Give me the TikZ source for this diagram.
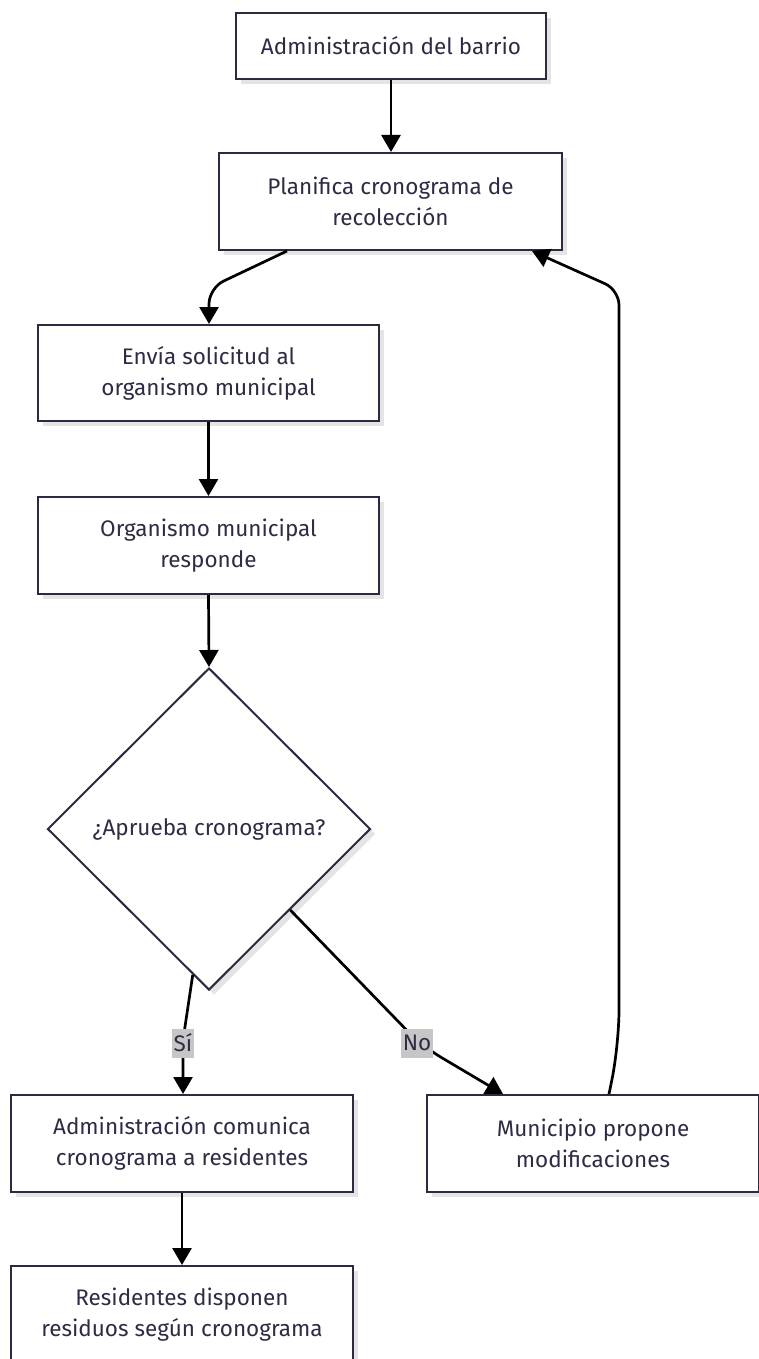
\documentclass[tikz,border=0pt]{standalone}
\usepackage{fontspec}
\setmainfont{Fira Sans}
\usetikzlibrary{arrows.meta,shapes.geometric,shadows,calc}

\definecolor{boxink}{HTML}{2B2A40}
\definecolor{textink}{HTML}{2E2C44}
\definecolor{shadeink}{HTML}{E4E4E4}
\definecolor{labelbg}{HTML}{C6C6C6}

\begin{document}
\begin{tikzpicture}[x=1pt,y=1pt,
  flowbox/.style={draw=boxink, line width=2pt, fill=white, align=center,
    text=textink, font=\fontsize{22.5}{31}\selectfont, inner sep=0pt,
    drop shadow={shadow xshift=5pt, shadow yshift=-5pt, fill=shadeink, opacity=1}},
  decision/.style={flowbox, diamond, minimum width=323pt, minimum height=322pt},
  link/.style={draw=black, line width=2.7pt,
    -{Triangle[length=17pt,width=19pt]}},
  edgetag/.style={sharp corners, fill=labelbg, draw=none, text=textink,
    font=\fontsize{22.5}{26}\selectfont,
    inner xsep=1.5pt, inner ysep=0pt, minimum height=29pt}
]
\useasboundingbox (0,0) rectangle (759,-1359);
\clip (0,0) rectangle (759,-1359);

% process steps
\node[flowbox, minimum width=310pt, minimum height=66pt] (adm) at (391,-46)
  {Administración del barrio};
\node[flowbox, minimum width=343pt, minimum height=97pt] (plan) at (390.5,-201.5)
  {Planifica cronograma de\\recolección};
\node[flowbox, minimum width=341pt, minimum height=96pt] (envia) at (208.5,-373)
  {Envía solicitud al\\organismo municipal};
\node[flowbox, minimum width=341pt, minimum height=97pt] (resp) at (208.5,-545.5)
  {Organismo municipal\\responde};
\node[decision] (ok) at (209,-829) {¿Aprueba cronograma?};
\node[flowbox, minimum width=342pt, minimum height=97pt] (comun) at (182,-1143.5)
  {Administración comunica\\cronograma a residentes};
\node[flowbox, minimum width=332pt, minimum height=97pt] (modif) at (593,-1143.5)
  {Municipio propone\\modificaciones};
\node[flowbox, minimum width=342pt, minimum height=97pt] (dispo) at (182,-1314.5)
  {Residentes disponen\\residuos según cronograma};

% bend points of the connectors
\coordinate (planbend) at (209,-288);
\coordinate (sibend) at (183,-1040);
\coordinate (nobend) at (422,-1046);
\coordinate (backlow) at (619,-1045);
\coordinate (backtop) at (619,-290);

% connectors
\draw[link] (adm.south) -- (adm.south |- plan.north);
\draw[link, rounded corners=16pt] ([xshift=-103.5pt]plan.south) -- (planbend) -- (planbend |- envia.north);
\draw[link] (envia.south) -- (resp.north);
\draw[link] (resp.south) -- (ok.north);
\draw[link, rounded corners=14pt] ($(ok.south)!0.1!(ok.west)$) -- (sibend)
  node[edgetag, pos=1, yshift=-3pt] {Sí} -- (sibend |- comun.north);
\draw[link, rounded corners=22pt] ($(ok.south)!0.5!(ok.east)$) -- (nobend)
  node[edgetag, xshift=-5pt, yshift=3pt] {No} -- ([xshift=-90pt]modif.north);
\draw[link] ([xshift=16pt]modif.north) [rounded corners=35pt] -- (backlow)
  [rounded corners=15pt] -- (backtop) -- ([xshift=141.5pt]plan.south);
\draw[link] (comun.south) -- (dispo.north);
\end{tikzpicture}
\end{document}
